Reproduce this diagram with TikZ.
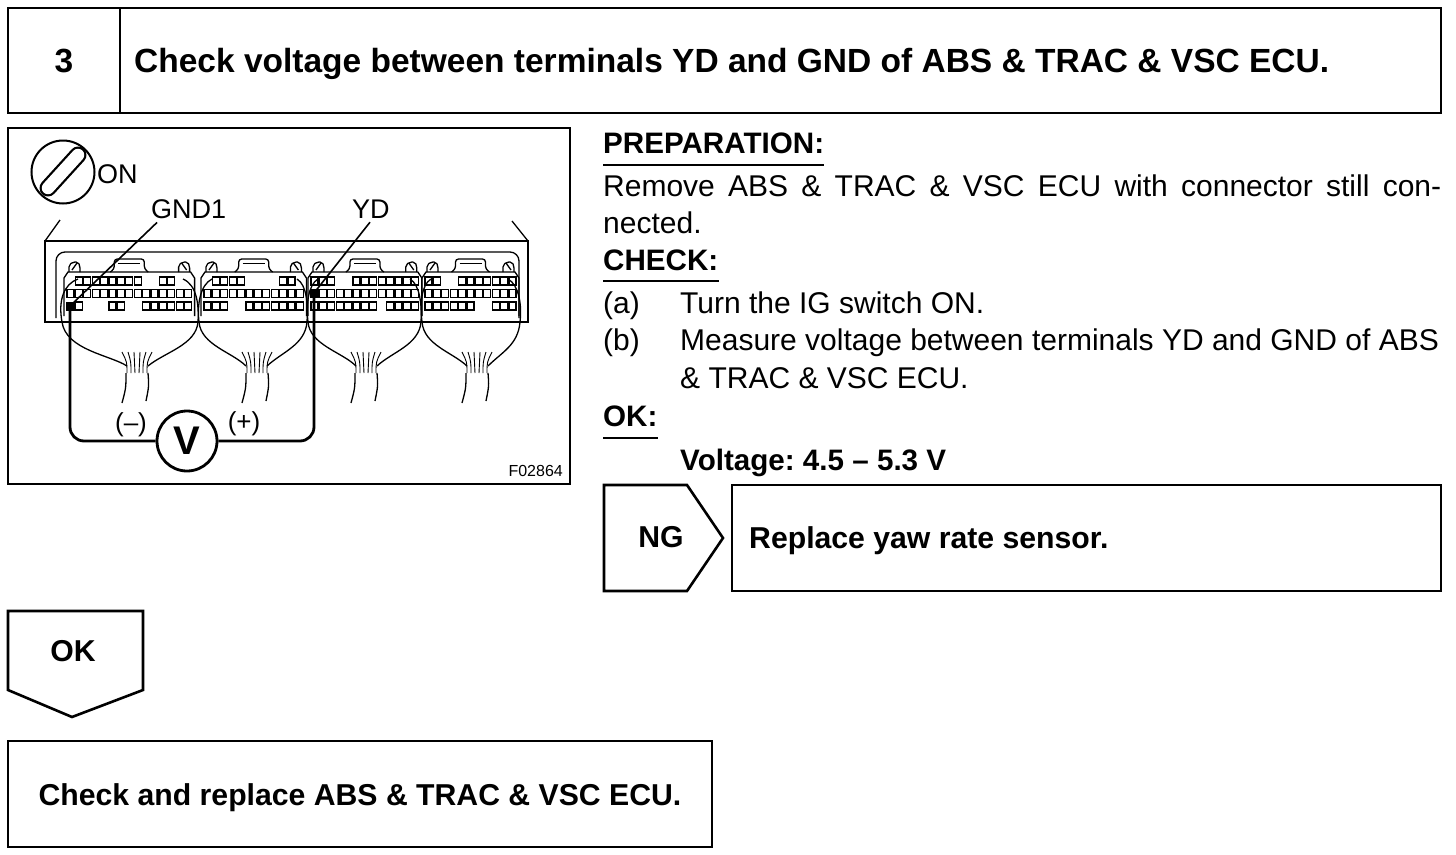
\documentclass[tikz,border=0pt]{standalone}
\usepackage{fontspec}
\setmainfont{Liberation Sans}
\frenchspacing
\newcommand\ecupins[3]{\foreach \c in {#3}{\draw[pin] ({#1+\c*8.4},#2) rectangle ++(7,8);}}
\newcommand\ecuhousing[2]{%
  \draw[wire] ({#1-3},316) -- ({#1-3},278) -- ({#1+1},272) -- ({#2-1},272) -- ({#2+3},278) -- ({#2+3},316);
  \draw[wire, rounded corners=2] ({#1+2},272) -- ({#1+2},265) -- ({#1+6},262) -- ({#1+11},262) -- ({#1+13},266) -- ({#1+13},272);
  \draw[wire] ({#1+5},270) -- ({#1+10},263);
  \draw[wire, rounded corners=2] ({#2-13},272) -- ({#2-13},265) -- ({#2-9},262) -- ({#2-4},262) -- ({#2-2},266) -- ({#2-2},272);
  \draw[wire] ({#2-10},263) -- ({#2-5},270);
  \draw[wire, rounded corners=3] ({(#1+#2)/2-19},272) -- ({(#1+#2)/2-15},269) -- ({(#1+#2)/2-15},259) -- ({(#1+#2)/2+15},259) -- ({(#1+#2)/2+15},269) -- ({(#1+#2)/2+19},272);
  \draw[wire] ({(#1+#2)/2-11},263.5) -- ({(#1+#2)/2+11},263.5);
}
\newcommand\ecubundle[1]{%
  \foreach \i in {0,...,5}{\draw[line width=0.9pt] ({#1-10+4*\i},373) .. controls ({#1-10+4*\i},362) .. ({#1-15+6*\i},352);}
  \draw[wire] ({#1-11},373) .. controls ({#1-11},388) .. ({#1-15},403);
  \draw[wire] ({#1+11},373) .. controls ({#1+12},386) .. ({#1+9},401);
}
\tikzset{
  box/.style={draw, line width=2.6pt},
  hd/.style={font=\fontsize{33.5}{40}\selectfont\bfseries, anchor=base west, inner sep=0pt},
  bodyr/.style={font=\fontsize{30}{36}\selectfont, anchor=base west, inner sep=0pt},
  bodyb/.style={font=\fontsize{29.6}{36}\selectfont\bfseries, anchor=base west, inner sep=0pt},
  boxb/.style={font=\fontsize{30.2}{36}\selectfont\bfseries, inner sep=0pt},
  lbl/.style={font=\fontsize{27}{32}\selectfont, anchor=base west, inner sep=0pt},
  pin/.style={draw, line width=1.3pt},
  wire/.style={line width=1.3pt},
  meter/.style={line width=2.8pt},
  uline/.style={line width=2pt}
}
\begin{document}
\begin{tikzpicture}[x=1pt, y=-1pt]
\useasboundingbox (0,0) rectangle (1456,854);
% header
\draw[box] (8,8) rectangle (1441,113);
\draw[box] (120,8) -- (120,113);
\node[hd, anchor=base] (num) at (64,72) {3};
\node[hd] (title) at (134,72) {Check voltage between terminals YD and GND of ABS \& TRAC \& VSC ECU.};
% figure frame
\draw[line width=2.4pt] (8,128) rectangle (570,484);
% ignition key symbol
\draw[line width=2pt] (63,172) circle (31.5);
\draw[line width=17pt, line cap=round] (48,188) -- (78,155);
\draw[white, line width=12.5pt, line cap=round] (48,188) -- (78,155);
\node[lbl] (on) at (97,183) {ON};
\node[lbl] (gndl) at (151,218) {GND1};
\node[lbl] (ydl) at (352,218) {YD};
% ECU body
\draw[wire] (60,220) -- (45,241);
\draw[wire] (512,221) -- (528,241);
\draw[wire] (45,241) rectangle (528,322);
\draw[wire, rounded corners=9] (56,318) -- (56,252) -- (519,252) -- (519,318);
% connectors
\ecuhousing{67}{191.6}
\ecuhousing{204}{303.4}
\ecuhousing{311}{418.8}
\ecuhousing{425}{516}
\ecupins{67}{277}{1,2,3,4,5,6,7,8,11,12}
\ecupins{67}{289.5}{0,1,2,3,4,5,6,7,8,9,10,11,12,13,14}
\ecupins{67}{302}{1,5,6,9,10,11,12,13,14}
\ecupins{204}{277}{1,2,3,4,9,10}
\ecupins{204}{289.5}{0,1,2,3,4,5,6,7,8,9,10,11}
\ecupins{204}{302}{0,1,2,5,6,7,8,9,10,11}
\ecupins{311}{277}{0,1,2,5,6,7,8,9,10,11,12}
\ecupins{311}{289.5}{1,2,3,4,5,6,7,8,9,10,11,12}
\ecupins{311}{302}{0,1,2,3,4,5,6,7,9,10,11,12}
\ecupins{425}{277}{0,1,4,5,6,7,8,9,10}
\ecupins{425}{289.5}{0,1,2,3,4,5,6,7,8,9,10}
\ecupins{425}{302}{0,1,2,3,4,5,8,9,10}
\fill (66,301.5) rectangle ++(8.5,9);
\fill (310,289) rectangle ++(8.5,9);
\coordinate (gnd) at (70,306);
\coordinate (yd) at (314,293);
% harness curves
\draw[wire] (78,279) .. controls (64,284) and (58,300) .. (62,322) .. controls (66,350) and (110,355) .. (127,366);
\draw[wire] (183,279) .. controls (197,285) and (199,305) .. (198,322) .. controls (196,345) and (165,352) .. (148,366);
\draw[wire] (212,279) .. controls (200,285) and (197,305) .. (199,322) .. controls (201,345) and (232,352) .. (246,366);
\draw[wire] (297,279) .. controls (307,285) and (308,305) .. (307,322) .. controls (305,345) and (282,352) .. (267,366);
\draw[wire] (318,279) .. controls (308,285) and (306,305) .. (308,322) .. controls (310,345) and (342,352) .. (356,366);
\draw[wire] (410,279) .. controls (420,285) and (422,305) .. (421,322) .. controls (419,345) and (392,352) .. (377,366);
\draw[wire] (431,279) .. controls (421,285) and (420,305) .. (422,322) .. controls (424,345) and (452,352) .. (467,366);
\draw[wire] (508,279) .. controls (519,285) and (522,305) .. (520,322) .. controls (518,345) and (502,352) .. (488,366);
\ecubundle{137}
\ecubundle{257}
\ecubundle{366}
\ecubundle{477}
% leaders
\draw[line width=1.6pt] ([xshift=6pt,yshift=-4pt]gndl.south west) -- (gnd);
\draw[line width=1.6pt] ([xshift=18pt,yshift=-4pt]ydl.south west) -- (yd);
% voltmeter
\node[draw, circle, meter, minimum size=60pt, inner sep=0pt, font=\fontsize{40}{40}\selectfont\bfseries] (vm) at (187,441) {V};
\draw[meter, rounded corners=14] (gnd) |- (vm.west);
\draw[meter, rounded corners=14] (vm.east) -| (yd);
\node[font=\fontsize{26}{28}\selectfont, inner sep=0pt] (minus) at (131,425) {(--)};
\node[font=\fontsize{26}{28}\selectfont, inner sep=0pt] (plus) at (244,424) {(+)};
\node[font=\fontsize{16}{18}\selectfont, anchor=base east, inner sep=0pt] (fig) at (563,476) {F02864};
% text
\node[bodyb] (prep) at (603,153.5) {PREPARATION:};
\draw[uline] ([yshift=-11pt]prep.base west) -- ([yshift=-11pt]prep.base east);
\node[bodyr] (rem) at (603,196.5) {\makebox[838pt][s]{Remove ABS \& TRAC \& VSC ECU with connector still con-}};
\node[bodyr] (nec) at (603,233) {nected.};
\node[bodyb] (chk) at (603,270) {CHECK:};
\draw[uline] ([yshift=-11pt]chk.base west) -- ([yshift=-11pt]chk.base east);
\node[bodyr] (la) at (603,313) {(a)};
\node[bodyr] (ta) at (680,313) {Turn the IG switch ON.};
\node[bodyr] (lb) at (603,350) {(b)};
\node[bodyr] (tb) at (680,350) {Measure voltage between terminals YD and GND of ABS};
\node[bodyr] (tb2) at (680,388) {\& TRAC \& VSC ECU.};
\node[bodyb] (okh) at (603,426) {OK:};
\draw[uline] ([yshift=-12pt]okh.base west) -- ([yshift=-12pt]okh.base east);
\node[bodyb] (volt) at (680,470) {Voltage: 4.5 -- 5.3 V};
% NG branch
\draw[box] (604,485) -- (687,485) -- (723,538) -- (687,591) -- (604,591) -- cycle;
\node[boxb] (ng) at (661,537.5) {NG};
\draw[box] (732,485) rectangle (1441,591);
\node[boxb, anchor=base west] (rep) at (749,548.5) {Replace yaw rate sensor.};
% OK branch
\draw[box] (8,611) -- (143,611) -- (143,690) -- (72,717) -- (8,690) -- cycle;
\node[boxb] (ok) at (73,651) {OK};
\draw[box] (8,741) rectangle (712,847);
\node[boxb, anchor=base] (fin) at (360,805) {Check and replace ABS \& TRAC \& VSC ECU.};
\end{tikzpicture}
\end{document}
